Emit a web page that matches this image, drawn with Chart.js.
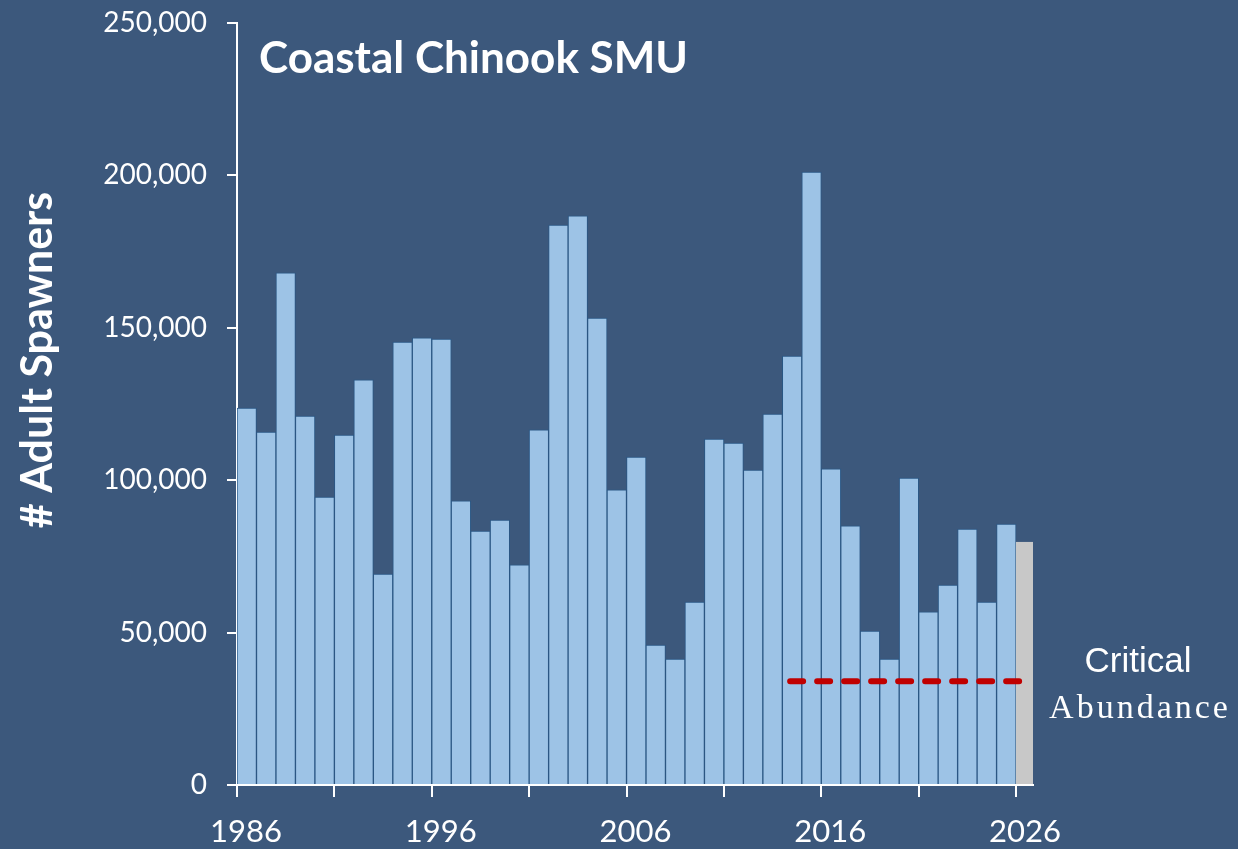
<!DOCTYPE html>
<html>
<head>
<meta charset="utf-8">
<script src="https://cdn.jsdelivr.net/npm/chart.js@4.4.1/dist/chart.umd.min.js"></script>
<style>
  html, body { margin: 0; padding: 0; background: #3C587C; }
  #wrap { width: 1238px; height: 849px; }
</style>
</head>
<body>
<div id="wrap"><canvas id="spawners" width="1238" height="849"></canvas></div>
<script>
// spawner counts per return year (last one is preliminary, drawn grey)
var years = [1986, 1987, 1988, 1989, 1990, 1991, 1992, 1993, 1994, 1995,
             1996, 1997, 1998, 1999, 2000, 2001, 2002, 2003, 2004, 2005,
             2006, 2007, 2008, 2009, 2010, 2011, 2012, 2013, 2014, 2015,
             2016, 2017, 2018, 2019, 2020, 2021, 2022, 2023, 2024, 2025,
             2026];
var spawners = [123700, 115800, 168000, 121000, 94500, 114800, 132900, 69200, 145300, 146700,
                146300, 93200, 83300, 86900, 72200, 116500, 183700, 186700, 153200, 96800,
                107600, 45900, 41300, 60000, 113500, 112200, 103300, 121700, 140700, 201100,
                103700, 85000, 50500, 41300, 100700, 56800, 65600, 84000, 60000, 85600,
                79700];
var tickYears = [1986, 1991, 1996, 2001, 2006, 2011, 2016, 2021, 2026];
var labelYears = [1986, 1996, 2006, 2016, 2026];
var yTicks = [0, 50000, 100000, 150000, 200000, 250000];

// critical abundance benchmark and the years it is drawn across
var criticalAbundance = 34000;
var criticalFrom = 2014.4;
var criticalTo = 2026.2;

var barColor = '#9DC3E6';
var prelimColor = '#C8C8C8';

var barData = [], barFill = [], barEdge = [];
for (var i = 0; i < years.length; i++) {
    barData.push({x: years[i] + 0.5, y: spawners[i]});
    var last = (i == years.length - 1);
    barFill.push(last ? prelimColor : barColor);
    barEdge.push(last ? prelimColor : '#2B5784');
}

// title, axis title and benchmark label, drawn straight on the canvas
var textPlugin = {
    id: 'chartText',
    afterDraw: function(chart) {
        var ctx = chart.ctx;
        ctx.save();
        ctx.fillStyle = '#FFFFFF';
        ctx.textBaseline = 'alphabetic';
        ctx.textAlign = 'left';
        ctx.font = 'bold 44px Lato';
        ctx.fillText('Coastal Chinook SMU', 259, 73);

        ctx.save();
        ctx.translate(52, 360);
        ctx.rotate(-Math.PI / 2);
        ctx.textAlign = 'center';
        ctx.font = 'bold 43px Lato';
        ctx.fillText('# Adult Spawners', 0, 0);
        ctx.restore();

        ctx.textAlign = 'center';
        ctx.font = '35px "Liberation Sans"';
        ctx.fillText('Critical', 1138, 672);
        ctx.font = '34px "Liberation Serif"';
        ctx.letterSpacing = '3px';
        ctx.fillText('Abundance', 1140, 718);
        ctx.restore();
    }
};

var ctx = document.getElementById('spawners');
var chart = new Chart(ctx, {
    type: 'bar',
    data: {
        datasets: [{
            type: 'line',
            label: 'Critical Abundance',
            data: [{x: criticalFrom, y: criticalAbundance}, {x: criticalTo, y: criticalAbundance}],
            borderColor: '#C00000',
            borderWidth: 6,
            borderDash: [13, 14],
            borderCapStyle: 'round',
            pointRadius: 0,
            order: 0
        }, {
            label: 'Adult Spawners',
            data: barData,
            backgroundColor: barFill,
            borderColor: barEdge,
            borderWidth: 1,
            barPercentage: 1,
            categoryPercentage: 1,
            order: 1
        }]
    },
    options: {
        responsive: false,
        animation: false,
        layout: { padding: { top: 0, right: 205, left: 0, bottom: 0 } },
        plugins: {
            legend: { display: false },
            tooltip: { enabled: false }
        },
        scales: {
            x: {
                type: 'linear',
                offset: false,
                min: 1986,
                max: 2026.87,
                afterBuildTicks: function(axis) {
                    axis.ticks = tickYears.map(function(v) { return {value: v}; });
                },
                afterFit: function(axis) { axis.height = 64; },
                grid: { offset: false, drawOnChartArea: false, drawTicks: true, tickLength: 12, color: '#FFFFFF', lineWidth: 2 },
                border: { display: true, color: '#FFFFFF', width: 2 },
                ticks: {
                    color: '#FFFFFF',
                    font: { family: 'Lato', size: 31 },
                    padding: 16,
                    labelOffset: 9,
                    autoSkip: false,
                    maxRotation: 0,
                    callback: function(v) { return labelYears.indexOf(v) >= 0 ? String(v) : ''; }
                }
            },
            y: {
                min: 0,
                max: 250000,
                afterBuildTicks: function(axis) {
                    axis.ticks = yTicks.map(function(v) { return {value: v}; });
                },
                afterFit: function(axis) {
                    axis.width = 237;
                    axis.paddingTop = 23;
                    axis.paddingBottom = 0;
                },
                grid: { drawOnChartArea: false, drawTicks: true, tickLength: 10, color: '#FFFFFF', lineWidth: 2 },
                border: { display: true, color: '#FFFFFF', width: 2 },
                ticks: {
                    color: '#FFFFFF',
                    font: { family: 'Lato', size: 28 },
                    padding: 20,
                    callback: function(v) { return v.toLocaleString('en-US'); }
                }
            }
        }
    },
    plugins: [textPlugin]
});
</script>
</body>
</html>
